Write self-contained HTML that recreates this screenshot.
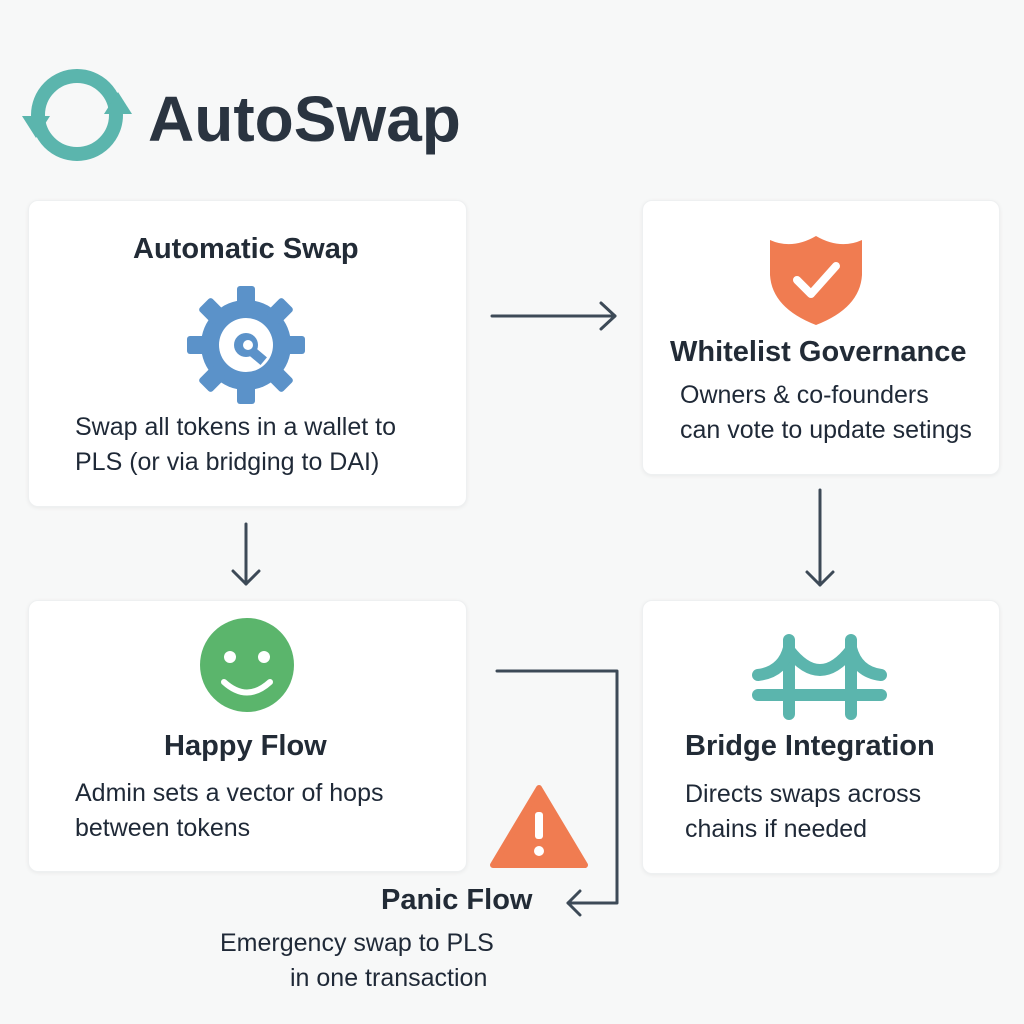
<!DOCTYPE html>
<html><head><meta charset="utf-8"><style>
body{margin:0;width:1024px;height:1024px;background:#f7f8f8;position:relative;overflow:hidden;font-family:"Liberation Sans",sans-serif;color:#1f2937}
.card{position:absolute;background:#fff;border-radius:10px;box-shadow:0 1px 4px rgba(0,0,0,0.06);border:1px solid #eef0f1}
.t{position:absolute;white-space:nowrap}
.h{font-size:29px;font-weight:bold;color:#222b36}
.p{font-size:25px;color:#1f2937;line-height:35px}
</style></head><body>
<div class="card" style="left:28px;top:200px;width:437px;height:305px"></div>
<div class="card" style="left:642px;top:200px;width:356px;height:273px"></div>
<div class="card" style="left:28px;top:600px;width:437px;height:270px"></div>
<div class="card" style="left:642px;top:600px;width:356px;height:272px"></div>

<svg width="1024" height="1024" style="position:absolute;left:0;top:0">
 <circle cx="77" cy="115" r="39" fill="none" stroke="#5bb5ad" stroke-width="14"/>
 <polygon points="22,116 50,116 36,138" fill="#5bb5ad"/>
 <polygon points="104,114 132,114 118,92" fill="#5bb5ad"/>
 <g transform="translate(246,345)" fill="#5b92c9">
  <circle r="45"/>
  <g id="tooth"><rect x="-9" y="-59" width="18" height="22" rx="3"/></g>
  <use href="#tooth" transform="rotate(45)"/><use href="#tooth" transform="rotate(90)"/><use href="#tooth" transform="rotate(135)"/>
  <use href="#tooth" transform="rotate(180)"/><use href="#tooth" transform="rotate(225)"/><use href="#tooth" transform="rotate(270)"/><use href="#tooth" transform="rotate(315)"/>
  <circle r="27" fill="#fff"/>
  <circle r="12" fill="#5b92c9"/><rect x="0" y="-4" width="24" height="10" transform="rotate(40)" fill="#5b92c9"/>
  <circle cx="2" r="5" fill="#fff"/>
 </g>
 <path d="M816 236 Q840 250 862 240 L862 275 Q860 308 816 325 Q772 308 770 275 L770 240 Q792 250 816 236Z" fill="#f07c51"/>
 <polyline points="797,280 811,294 836,266" fill="none" stroke="#fff" stroke-width="8" stroke-linecap="round" stroke-linejoin="round"/>
 <circle cx="247" cy="665" r="47" fill="#5bb56c"/>
 <circle cx="230" cy="657" r="6" fill="#fff"/><circle cx="264" cy="657" r="6" fill="#fff"/>
 <path d="M224 682 Q247 703 270 682" fill="none" stroke="#fff" stroke-width="6" stroke-linecap="round"/>
 <g fill="none" stroke="#5bb5ad" stroke-width="12" stroke-linecap="round">
  <line x1="789" y1="640" x2="789" y2="714"/><line x1="851" y1="640" x2="851" y2="714"/>
  <line x1="758" y1="695" x2="881" y2="695"/>
  <path d="M758 675 Q783 672 789 648"/><path d="M881 675 Q857 672 851 648"/>
  <path d="M789 650 Q820 690 851 650"/>
 </g>
 <path d="M539 788 L585 865 L493 865Z" fill="#f07c51" stroke="#f07c51" stroke-width="6" stroke-linejoin="round"/>
 <rect x="535" y="812" width="8" height="27" rx="3" fill="#fff"/><circle cx="539" cy="851" r="5" fill="#fff"/>
 <g fill="none" stroke="#3d4a57" stroke-width="3" stroke-linecap="round" stroke-linejoin="round">
  <line x1="492" y1="316" x2="615" y2="316"/><polyline points="601,303 615,316 601,329"/>
  <line x1="246" y1="524" x2="246" y2="584"/><polyline points="233,571 246,584 259,571"/>
  <line x1="820" y1="490" x2="820" y2="585"/><polyline points="807,572 820,585 833,572"/>
  <polyline points="497,671 617,671 617,903 568,903"/><polyline points="580,891 568,903 580,915"/>
 </g>
</svg>

<div class="t" style="left:148px;top:82px;font-size:64px;font-weight:bold;color:#2a3440">AutoSwap</div>
<div class="t h" style="left:133px;top:233px">Automatic Swap</div>
<div class="t p" style="left:75px;top:410px">Swap all tokens in a wallet to<br>PLS (or via bridging to DAI)</div>
<div class="t h" style="left:670px;top:336px">Whitelist Governance</div>
<div class="t p" style="left:680px;top:378px">Owners &amp; co-founders<br>can vote to update setings</div>
<div class="t h" style="left:164px;top:730px">Happy Flow</div>
<div class="t p" style="left:75px;top:776px">Admin sets a vector of hops<br>between tokens</div>
<div class="t h" style="left:685px;top:730px">Bridge Integration</div>
<div class="t p" style="left:685px;top:777px">Directs swaps across<br>chains if needed</div>
<div class="t h" style="left:381px;top:884px">Panic Flow</div>
<div class="t p" style="left:220px;top:926px">Emergency swap to PLS</div>
<div class="t p" style="left:290px;top:961px">in one transaction</div>
</body></html>
